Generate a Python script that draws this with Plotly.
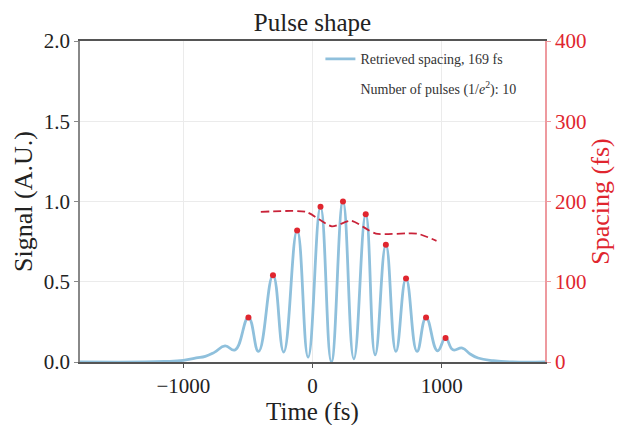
import plotly.graph_objects as go

# Signal trace (peaks and valleys)
time_fs = [-1800, -1300, -1150, -1000, -900, -830, -760, -677, -600, -496, -418, -306, -223,
           -119, -34, 62, 146, 236, 320, 412, 485, 568, 646, 724, 809, 879, 968, 1030, 1087,
           1160, 1220, 1282, 1400, 1550, 1800]
signal = [0.0, 0.0, 0.003, 0.01, 0.025, 0.035, 0.06, 0.10, 0.075, 0.277, 0.066, 0.54, 0.062,
          0.82, 0.03, 0.967, 0.0, 1.0, 0.02, 0.92, 0.045, 0.73, 0.066, 0.52, 0.066, 0.277, 0.07,
          0.149, 0.076, 0.087, 0.05, 0.025, 0.008, 0.0, 0.0]

# Detected pulse peaks
peak_times = [-496, -306, -119, 62, 236, 412, 568, 724, 879, 1030]
peak_values = [0.277, 0.54, 0.82, 0.967, 1.0, 0.92, 0.73, 0.52, 0.277, 0.149]

# Local pulse spacing
spacing_times = [-400, -50, 150, 300, 490, 810, 960]
spacing_fs = [187, 187, 169, 176, 160, 160, 151]

legend_labels = ["Retrieved spacing, 169 fs", "Number of pulses (1/<i>e</i><sup>2</sup>): 10"]

SERIF = "Liberation Serif, Times New Roman, serif"
RED = "#e0262f"

fig = go.Figure()
fig.add_trace(go.Scatter(x=time_fs, y=signal, mode="lines",
                         line=dict(color="#8fc0dc", width=2.8, shape="spline", smoothing=1.3),
                         name=legend_labels[0], legendgroup="a"))
fig.add_trace(go.Scatter(x=[None], y=[None], mode="lines", line=dict(color="rgba(0,0,0,0)", width=0),
                         name=legend_labels[1], legendgroup="b"))
fig.add_trace(go.Scatter(x=peak_times, y=peak_values, mode="markers", marker=dict(color=RED, size=6),
                         showlegend=False))
fig.add_trace(go.Scatter(x=spacing_times, y=spacing_fs, mode="lines", yaxis="y2",
                         line=dict(color="#c92238", width=1.8, dash="8px,4px", shape="spline", smoothing=0.6),
                         showlegend=False))

fig.update_layout(
    width=626, height=425,
    margin=dict(l=72, r=89, t=33, b=71),
    plot_bgcolor="white", paper_bgcolor="white",
    font=dict(family=SERIF, color="#222"),
    title=dict(text="Pulse shape", x=0.5, xref="paper", xanchor="center",
               yref="container", y=0.967, yanchor="middle",
               font=dict(family=SERIF, size=25, color="#222")),
    xaxis=dict(range=[-1800, 1800], tickvals=[-1000, 0, 1000], showgrid=True, gridcolor="#ebebeb",
               zeroline=False, showline=True, linecolor="#555", linewidth=1.5, mirror=True,
               ticks="outside", ticklen=4, tickcolor="#555", automargin=False,
               tickfont=dict(family=SERIF, size=21, color="#222"),
               title=dict(text="Time (fs)", font=dict(family=SERIF, size=25, color="#222"), standoff=2)),
    yaxis=dict(range=[0, 2.0], tickvals=[0, 0.5, 1.0, 1.5, 2.0], tickformat=".1f", showgrid=True,
               gridcolor="#ebebeb", zeroline=False, showline=True, linecolor="#888", linewidth=1.5,
               ticks="outside", ticklen=4, tickcolor="#888", automargin=False,
               tickfont=dict(family=SERIF, size=21, color="#222"),
               title=dict(text="Signal (A.U.)", font=dict(family=SERIF, size=26, color="#222"), standoff=4)),
    yaxis2=dict(range=[0, 400], tickvals=[0, 100, 200, 300, 400], overlaying="y", side="right",
                showgrid=False, zeroline=False, showline=True, linecolor="#ee9a9f", linewidth=1.5,
                ticks="outside", ticklen=4, tickcolor="#ee9a9f", automargin=False,
                tickfont=dict(family=SERIF, size=21, color=RED),
                title=dict(text="Spacing (fs)", font=dict(family=SERIF, size=26, color=RED), standoff=4)),
    legend=dict(x=0.517, y=0.993, xanchor="left", yanchor="top", bgcolor="rgba(0,0,0,0)",
                font=dict(family=SERIF, size=14, color="#333"), traceorder="grouped", tracegroupgap=8),
    showlegend=True,
)

fig.write_html("out.html")
